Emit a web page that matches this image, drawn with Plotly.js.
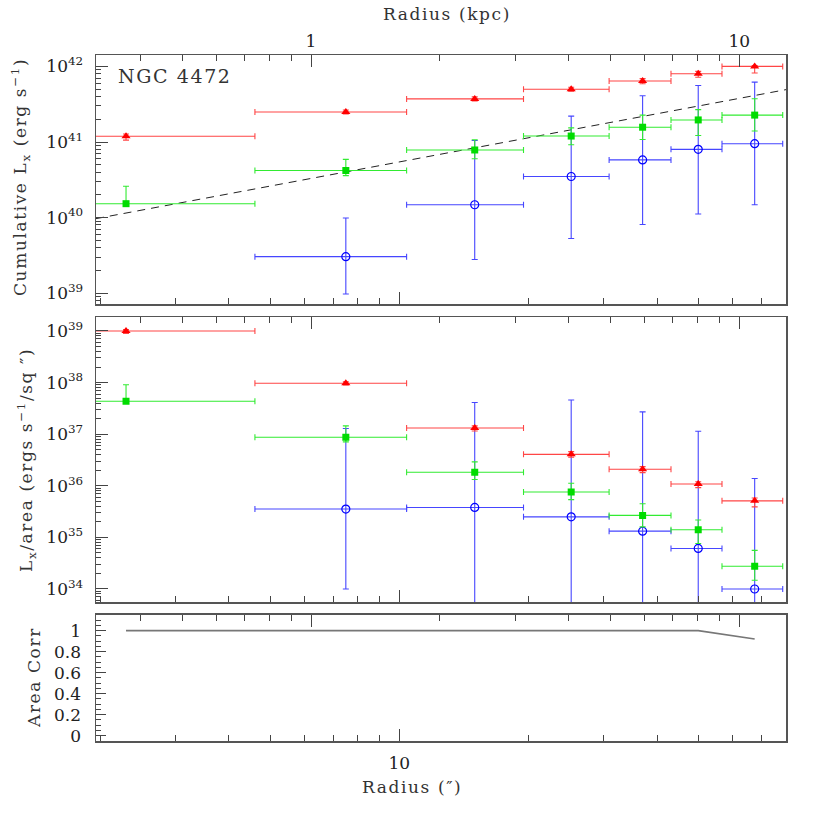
<!DOCTYPE html>
<html>
<head>
<meta charset="utf-8">
<script src="https://cdn.plot.ly/plotly-3.0.1.min.js"></script>
<style>html,body{margin:0;padding:0;background:#fff;}#chart{width:830px;height:830px;}</style>
</head>
<body>
<div id="chart"></div>
<script>
// ---------------- data ----------------
const radius = [2.3, 7.5, 15.0, 25.2, 37.0, 49.9, 67.6];          // arcsec, bin centres
const binLo  = [0, 4.6, 10.4, 19.5, 30.9, 43.1, 56.7];
const binHi  = [4.6, 10.4, 19.5, 30.9, 43.1, 56.7, 78.6];

// Cumulative Lx (erg/s)
const cumRed     = [1.19e41, 2.50e41, 3.72e41, 5.0e41, 6.4e41, 8.0e41, 1.0e42];
const cumRedLo   = [1.06e41, 2.36e41, 3.50e41, 4.7e41, 5.9e41, 7.2e41, 8.2e41];
const cumRedHi   = [1.28e41, 2.65e41, 3.95e41, 5.3e41, 6.9e41, 8.6e41, 1.03e42];
const cumGreen   = [1.53e40, 4.2e40, 7.85e40, 1.20e41, 1.57e41, 1.96e41, 2.27e41];
const cumGreenLo = [1.45e40, 3.6e40, 6.0e40, 9.2e40, 1.08e41, 1.22e41, 1.40e41];
const cumGreenHi = [2.6e40, 5.9e40, 1.07e41, 1.54e41, 2.27e41, 2.68e41, 3.74e41];
const cumBlue    = [null, 3.05e39, 1.48e40, 3.5e40, 5.8e40, 8.0e40, 9.5e40];
const cumBlueLo  = [null, 9.8e38, 2.8e39, 5.3e39, 8.1e39, 1.12e40, 1.48e40];
const cumBlueHi  = [null, 9.9e39, 1.05e41, 2.2e41, 4.1e41, 5.6e41, 6.2e41];

// dashed reference line (end points)
const fitR = [1.957, 80];
const fitL = [9.7e39, 4.93e41];

// Lx / area (erg/s/sq arcsec)
const areaRed     = [1.0e39, 9.7e37, 1.32e37, 4.07e36, 2.09e36, 1.08e36, 5.1e35];
const areaRedLo   = [9.0e38, 9.0e37, 1.15e37, 3.6e36, 1.8e36, 9.2e35, 3.9e35];
const areaRedHi   = [1.07e39, 1.04e38, 1.45e37, 4.6e36, 2.35e36, 1.2e36, 5.8e35];
const areaGreen   = [4.35e37, 8.7e36, 1.83e36, 7.6e35, 2.67e35, 1.41e35, 2.75e34];
const areaGreenLo = [4.0e37, 7.1e36, 1.32e36, 5.4e35, 1.6e35, 7.6e34, 1.48e34];
const areaGreenHi = [9.1e37, 1.45e37, 2.9e36, 1.12e36, 4.5e35, 2.17e35, 5.6e34];
const areaBlue    = [null, 3.54e35, 3.8e35, 2.5e35, 1.32e35, 6.1e34, 1.0e34];
const areaBlueLo  = [null, 1.0e34, 1e33, 1e33, 1e33, 1e33, 1e33];
const areaBlueHi  = [null, 1.29e37, 4.1e37, 4.6e37, 2.7e37, 1.14e37, 1.38e36];

// area correction
const areaCorr = [1, 1, 1, 1, 1, 1, 0.92];

// axis tick labels
const arcsecRange = [1.957, 80];
const arcsecPerKpc = 6.22;
const cumTicks  = [1e39, 1e40, 1e41, 1e42];
const cumLabels = ['10<sup>39</sup>', '10<sup>40</sup>', '10<sup>41</sup>', '10<sup>42</sup>'];
const areaTicks  = [1e34, 1e35, 1e36, 1e37, 1e38, 1e39];
const areaLabels = ['10<sup>34</sup>', '10<sup>35</sup>', '10<sup>36</sup>', '10<sup>37</sup>', '10<sup>38</sup>', '10<sup>39</sup>'];
const corrTicks  = [0, 0.2, 0.4, 0.6, 0.8, 1];
const corrLabels = ['0', '0.2', '0.4', '0.6', '0.8', '1'];

// ---------------- helpers ----------------
const L = 96, R = 786, T = 55, B = 741;
const fx = px => (px - L) / (R - L);
const fy = py => (B - py) / (B - T);
const log = Math.log10;

function pick(arr, mask) { return arr.filter((_, i) => mask[i] !== null); }
function minorLog(e0, e1) {
  const out = [];
  for (let e = e0; e <= e1; e++) for (let m = 2; m <= 9; m++) out.push(m * Math.pow(10, e));
  return out;
}

const RED = 'rgb(255,70,70)', GREEN = 'rgb(50,235,50)', BLUE = 'rgb(70,70,255)';

function series(vals, lo, hi, xa, ya, color, marker) {
  const x = pick(radius, vals), v = pick(vals, vals);
  const l = pick(lo, vals), h = pick(hi, vals);
  const bl = pick(binLo, vals).map(b => Math.max(b, 0.5)), bh = pick(binHi, vals);
  return {
    type: 'scatter', mode: 'markers', x: x, y: v, xaxis: xa, yaxis: ya,
    marker: marker, showlegend: false, hoverinfo: 'skip',
    error_x: {type: 'data', symmetric: false, array: bh.map((b, i) => b - x[i]),
              arrayminus: bl.map((b, i) => x[i] - b), color: color, thickness: 1.1, width: 3},
    error_y: {type: 'data', symmetric: false, array: h.map((b, i) => b - v[i]),
              arrayminus: l.map((b, i) => v[i] - b), color: color, thickness: 1.1, width: 3}
  };
}

const mRed = {symbol: 'triangle-up', size: 8, color: 'red'};
const mGreen = {symbol: 'square', size: 7, color: 'rgb(0,220,0)'};
const mBlue = {symbol: 'circle-open', size: 8, color: 'blue', line: {width: 1.2, color: 'blue'}};

const traces = [
  {type: 'scatter', mode: 'lines', x: fitR, y: fitL, xaxis: 'x', yaxis: 'y',
   line: {color: '#222', width: 1, dash: '8px,6px'}, showlegend: false, hoverinfo: 'skip'},
  series(cumBlue, cumBlueLo, cumBlueHi, 'x', 'y', BLUE, mBlue),
  series(cumGreen, cumGreenLo, cumGreenHi, 'x', 'y', GREEN, mGreen),
  series(cumRed, cumRedLo, cumRedHi, 'x', 'y', RED, mRed),
  series(areaBlue, areaBlueLo, areaBlueHi, 'x2', 'y2', BLUE, mBlue),
  series(areaGreen, areaGreenLo, areaGreenHi, 'x2', 'y2', GREEN, mGreen),
  series(areaRed, areaRedLo, areaRedHi, 'x2', 'y2', RED, mRed),
  {type: 'scatter', mode: 'lines', x: radius, y: areaCorr, xaxis: 'x3', yaxis: 'y3',
   line: {color: '#777', width: 1.6}, showlegend: false, hoverinfo: 'skip'},
  // empty traces to bind the kpc axes
  {type: 'scatter', x: [], y: [], xaxis: 'x4', yaxis: 'y', showlegend: false},
  {type: 'scatter', x: [], y: [], xaxis: 'x5', yaxis: 'y2', showlegend: false},
  {type: 'scatter', x: [], y: [], xaxis: 'x6', yaxis: 'y3', showlegend: false}
];

const FONT = 'DejaVu Serif, Liberation Serif, serif';
const tickFont = {family: FONT, size: 17, color: '#222'};
const LINE = '#555', TICK = '#444';

function arcsecAxis(anchor, labels) {
  return {
    type: 'log', range: [log(arcsecRange[0]), log(arcsecRange[1])], anchor: anchor,
    domain: [0, 1], showgrid: false, zeroline: false,
    showline: true, mirror: true, linecolor: LINE, linewidth: 1.5,
    ticks: 'inside', ticklen: 12, tickwidth: 1, tickcolor: TICK,
    tickmode: 'array', tickvals: [10], ticktext: ['10'], showticklabels: labels,
    tickfont: tickFont, ticklabelstandoff: 6,
    minor: {ticks: 'inside', ticklen: 6, tickwidth: 1, tickcolor: TICK, tickmode: 'array',
            tickvals: [2, 3, 4, 5, 6, 7, 8, 9, 20, 30, 40, 50, 60, 70, 80], showgrid: false}
  };
}
function kpcAxis(over, anchor, labels) {
  return {
    type: 'log', overlaying: over, anchor: anchor, side: 'top',
    range: [log(arcsecRange[0] / arcsecPerKpc), log(arcsecRange[1] / arcsecPerKpc)],
    showgrid: false, zeroline: false, showline: false,
    ticks: 'inside', ticklen: 12, tickwidth: 1, tickcolor: TICK,
    tickmode: 'array', tickvals: [1, 10], ticktext: ['1', '10'], showticklabels: labels,
    tickfont: tickFont, ticklabelstandoff: 4,
    minor: {ticks: 'inside', ticklen: 6, tickwidth: 1, tickcolor: TICK, tickmode: 'array',
            tickvals: [0.4, 0.5, 0.6, 0.7, 0.8, 0.9, 2, 3, 4, 5, 6, 7, 8, 9], showgrid: false}
  };
}
function logYAxis(range, dom, ticks, labels, anchor) {
  return {
    type: 'log', range: range, domain: dom, anchor: anchor,
    showgrid: false, zeroline: false, showline: true, mirror: true, linecolor: LINE, linewidth: 1.5,
    ticks: 'inside', ticklen: 12, tickwidth: 1, tickcolor: TICK,
    tickmode: 'array', tickvals: ticks, ticktext: labels, tickfont: tickFont, ticklabelstandoff: 8,
    minor: {ticks: 'inside', ticklen: 5, tickwidth: 1, tickcolor: TICK, tickmode: 'array',
            tickvals: minorLog(Math.floor(range[0]), Math.floor(range[1])), showgrid: false}
  };
}

const titleFont = {family: FONT, size: 17, color: '#333'};
const ls = s => '<span style="letter-spacing:1.6px">' + s + '</span>';

const layout = {
  width: 830, height: 830,
  margin: {l: L, r: 830 - R, t: T, b: 830 - B, pad: 0},
  paper_bgcolor: '#fff', plot_bgcolor: '#fff', showlegend: false,
  xaxis: arcsecAxis('y', false),
  xaxis2: Object.assign(arcsecAxis('y2', false), {matches: 'x'}),
  xaxis3: Object.assign(arcsecAxis('y3', true), {matches: 'x'}),
  xaxis4: kpcAxis('x', 'y', true),
  xaxis5: kpcAxis('x2', 'y2', false),
  xaxis6: kpcAxis('x3', 'y3', false),
  yaxis: logYAxis([38.858, 42.151], [fy(304), 1], cumTicks, cumLabels, 'x'),
  yaxis2: logYAxis([33.742, 39.265], [fy(602.3), fy(317.3)], areaTicks, areaLabels, 'x2'),
  yaxis3: {
    range: [-0.05, 1.152], domain: [0, fy(614.7)], anchor: 'x3',
    showgrid: false, zeroline: false, showline: true, mirror: true, linecolor: LINE, linewidth: 1.5,
    ticks: 'inside', ticklen: 10, tickwidth: 1, tickcolor: TICK,
    tickmode: 'array', tickvals: corrTicks, ticktext: corrLabels, tickfont: tickFont, ticklabelstandoff: 10,
    minor: {ticks: 'inside', ticklen: 5, tickwidth: 1, tickcolor: TICK, dtick: 0.05, tick0: 0, showgrid: false}
  },
  annotations: [
    {text: ls('Radius (kpc)'), xref: 'paper', yref: 'paper', x: fx(447), y: fy(14),
     xanchor: 'center', yanchor: 'middle', showarrow: false, font: titleFont},
    {text: ls('Radius (″)'), xref: 'paper', yref: 'paper', x: fx(412), y: fy(787),
     xanchor: 'center', yanchor: 'middle', showarrow: false, font: titleFont},
    {text: ls('Cumulative L<sub>x</sub> (erg s<sup>−1</sup>)'), xref: 'paper', yref: 'paper',
     x: fx(20), y: fy(177), xanchor: 'center', yanchor: 'middle', textangle: -90, showarrow: false, font: titleFont},
    {text: ls('L<sub>x</sub>/area (ergs s<sup>−1</sup>/sq ″)'), xref: 'paper', yref: 'paper',
     x: fx(27), y: fy(460), xanchor: 'center', yanchor: 'middle', textangle: -90, showarrow: false, font: titleFont},
    {text: ls('Area Corr'), xref: 'paper', yref: 'paper',
     x: fx(34), y: fy(678), xanchor: 'center', yanchor: 'middle', textangle: -90, showarrow: false, font: titleFont},
    {text: ls('NGC 4472'), xref: 'paper', yref: 'paper', x: fx(116), y: fy(76),
     xanchor: 'left', yanchor: 'middle', showarrow: false, font: {family: FONT, size: 19, color: '#333'}}
  ]
};

Plotly.newPlot('chart', traces, layout, {staticPlot: true, displayModeBar: false});
</script>
</body>
</html>
